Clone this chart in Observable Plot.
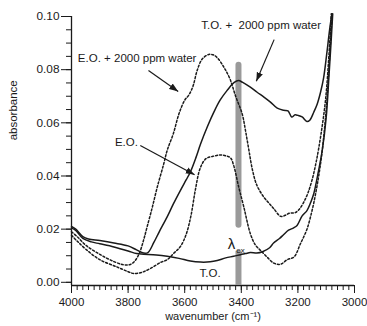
<!DOCTYPE html>
<html>
<head>
<meta charset="utf-8">
<script src="https://cdn.jsdelivr.net/npm/d3@7"></script>
<script src="https://cdn.jsdelivr.net/npm/@observablehq/plot@0.6"></script>
<style>
  html, body { margin: 0; padding: 0; background: #fff; }
  svg { display: block; }
</style>
</head>
<body>
<div id="chart"></div>
<script>
// ---- data: [wavenumber (cm^-1), absorbance] ----
const TO = [[4000,0.0205],[3985,0.0195],[3960,0.0165],[3930,0.0152],[3900,0.0145],[3850,0.0133],[3800,0.0118],[3770,0.0108],[3745,0.0106],[3700,0.0103],[3662,0.0098],[3620,0.0090],[3580,0.0080],[3544,0.0076],[3510,0.0077],[3485,0.0082],[3455,0.0092],[3427,0.0098],[3403,0.0104],[3385,0.0108],[3368,0.0112],[3345,0.0110],[3325,0.0115],[3300,0.0130],[3286,0.0148],[3265,0.0165],[3250,0.0180],[3233,0.0196],[3215,0.0205],[3203,0.0214],[3185,0.0250],[3168,0.0270],[3155,0.0300],[3144,0.0333],[3127,0.0420],[3114,0.0496],[3100,0.0620],[3090,0.0780],[3083,0.0900],[3077,0.1010]];
const TO_WATER = [[4000,0.0210],[3985,0.0200],[3960,0.0172],[3940,0.0163],[3900,0.0157],[3850,0.0148],[3800,0.0137],[3770,0.0122],[3745,0.0110],[3730,0.0112],[3709,0.0150],[3690,0.0190],[3662,0.0246],[3640,0.0295],[3615,0.0346],[3595,0.0385],[3580,0.0415],[3560,0.0470],[3544,0.0520],[3520,0.0585],[3497,0.0640],[3475,0.0685],[3450,0.0722],[3425,0.0752],[3410,0.0759],[3395,0.0752],[3368,0.0734],[3344,0.0715],[3320,0.0697],[3297,0.0678],[3273,0.0655],[3250,0.0647],[3235,0.0645],[3222,0.0622],[3210,0.0630],[3200,0.0628],[3185,0.0622],[3168,0.0605],[3158,0.0610],[3144,0.0640],[3132,0.0670],[3120,0.0715],[3109,0.0770],[3098,0.0860],[3088,0.0950],[3080,0.1010]];
const EO = [[4000,0.0177],[3980,0.0155],[3950,0.0125],[3900,0.0085],[3840,0.0058],[3800,0.0040],[3780,0.0033],[3750,0.0038],[3721,0.0052],[3685,0.0075],[3662,0.0085],[3638,0.0110],[3615,0.0135],[3595,0.0180],[3578,0.0250],[3562,0.0350],[3545,0.0430],[3525,0.0465],[3500,0.0474],[3475,0.0479],[3455,0.0476],[3438,0.0468],[3427,0.0440],[3409,0.0358],[3391,0.0283],[3368,0.0183],[3350,0.0140],[3332,0.0120],[3309,0.0095],[3285,0.0072],[3261,0.0068],[3238,0.0085],[3214,0.0095],[3191,0.0145],[3168,0.0200],[3150,0.0270],[3138,0.0330],[3125,0.0410],[3114,0.0496],[3100,0.0650],[3090,0.0810],[3079,0.1010]];
const EO_WATER = [[4000,0.0190],[3980,0.0172],[3950,0.0140],[3900,0.0105],[3850,0.0078],[3820,0.0067],[3795,0.0066],[3778,0.0078],[3760,0.0110],[3745,0.0160],[3733,0.0208],[3715,0.0280],[3697,0.0358],[3674,0.0446],[3662,0.0496],[3640,0.0560],[3620,0.0635],[3600,0.0685],[3585,0.0705],[3570,0.0740],[3556,0.0797],[3538,0.0840],[3515,0.0857],[3500,0.0856],[3485,0.0845],[3462,0.0810],[3440,0.0765],[3420,0.0700],[3397,0.0634],[3385,0.0570],[3373,0.0496],[3360,0.0420],[3345,0.0365],[3320,0.0320],[3300,0.0295],[3285,0.0277],[3261,0.0248],[3245,0.0252],[3230,0.0260],[3210,0.0262],[3195,0.0275],[3180,0.0300],[3165,0.0335],[3150,0.0385],[3135,0.0455],[3118,0.0560],[3102,0.0690],[3090,0.0860],[3082,0.1010]];

// tick values
const X_MAJOR = [4000, 3800, 3600, 3400, 3200, 3000];
const X_MINOR = d3.range(3000, 4001, 20);
const Y_MAJOR = [0, 0.02, 0.04, 0.06, 0.08, 0.10];
const Y_MINOR = d3.range(0, 0.1001, 0.005);

// annotations
const LABEL_TEXT = ["T.O. +  2000 ppm water", "E.O. + 2000 ppm water", "E.O.", "T.O."];
const LABEL_WN   = [3330, 3768, 3806, 3510];
const LABEL_ABS  = [0.0966, 0.0842, 0.0526, 0.0033];
const ARROW_FROM = [[3284, 0.0913], [3728, 0.0797], [3757, 0.0515]];
const ARROW_TO   = [[3347, 0.0756], [3623, 0.0718], [3565, 0.0405]];
const EX_WN = 3410;                       // excitation wavelength marker
const EX_SEGMENTS = [[-0.0012, 0.0117], [0.0215, 0.0817]];
const Y_LABEL = "absorbance";
const X_LABEL = "wavenumber (cm\u207B\u00B9)";

const toRows = (arr, s) => arr.map(([wn, a]) => ({wn, a, s}));
const labels = LABEL_TEXT.map((t, i) => ({t, wn: LABEL_WN[i], a: LABEL_ABS[i]}));
const arrows = ARROW_FROM.map((f, i) => ({x1: f[0], y1: f[1], x2: ARROW_TO[i][0], y2: ARROW_TO[i][1]}));

const font = "'Liberation Sans', Arial, Helvetica, sans-serif";
const ink = "#1a1a1a";

// filled triangular arrowhead marker
function filledArrow(color) {
  const m = d3.create("svg:marker")
    .attr("viewBox", "-10 -5 10 10")
    .attr("markerWidth", 9)
    .attr("markerHeight", 9)
    .attr("markerUnits", "userSpaceOnUse")
    .attr("orient", "auto")
    .attr("fill", color)
    .attr("stroke", "none");
  m.append("path").attr("d", "M-10,-3.6L0,0L-10,3.6Z");
  return m.node();
}

const chart = Plot.plot({
  width: 367,
  height: 326,
  marginLeft: 71,
  marginRight: 13,
  marginTop: 16,
  marginBottom: 41,
  x: {domain: [4000, 3000]},
  y: {domain: [-0.0012, 0.1]},
  style: {fontFamily: font, fontSize: "11.5px", color: ink, background: "#fff"},
  marks: [
    // axes
    Plot.axisY({ticks: Y_MINOR, tickSize: 5, tickFormat: () => "", label: null}),
    Plot.axisY({ticks: Y_MAJOR, tickSize: 10, tickPadding: 2, tickFormat: d3.format(".2f"), label: null, fontSize: 11.8}),
    Plot.axisX({ticks: X_MINOR, tickSize: 5, tickFormat: () => "", label: null}),
    Plot.axisX({ticks: X_MAJOR, tickSize: 8, tickPadding: 4, tickFormat: d3.format("d"), label: null, fontSize: 11.5}),
    Plot.ruleX([4000], {y1: -0.0012, y2: 0.1, stroke: ink, strokeWidth: 1.3}),
    Plot.ruleY([-0.0012], {x1: 4000, x2: 3000, stroke: ink, strokeWidth: 1.3}),
    Plot.text([Y_LABEL], {frameAnchor: "left", y: 0.0534, dx: -58, rotate: -90, text: d => d, fontSize: 11.5, fill: ink}),
    Plot.text([X_LABEL], {frameAnchor: "bottom", x: 3500, dy: 34, text: d => d, fontSize: 11, fill: ink}),
    // excitation bar
    Plot.ruleX([EX_SEGMENTS[0]], {x: () => EX_WN, y1: d => d[0], y2: d => d[1], stroke: "#9a9a9a", strokeWidth: 6}),
    Plot.ruleX([EX_SEGMENTS[1]], {x: () => EX_WN, y1: d => d[0], y2: d => d[1], stroke: "#9a9a9a", strokeWidth: 6, strokeLinecap: "round"}),
    // spectra
    Plot.line(toRows(TO, "TO"), {x: "wn", y: "a", stroke: ink, strokeWidth: 1.5, curve: "catmull-rom"}),
    Plot.line(toRows(TO_WATER, "TOW"), {x: "wn", y: "a", stroke: ink, strokeWidth: 1.5, curve: "catmull-rom"}),
    Plot.line(toRows(EO, "EO"), {x: "wn", y: "a", stroke: ink, strokeWidth: 1.5, strokeDasharray: "2,2", curve: "catmull-rom"}),
    Plot.line(toRows(EO_WATER, "EOW"), {x: "wn", y: "a", stroke: ink, strokeWidth: 1.5, strokeDasharray: "2,2", curve: "catmull-rom"}),
    // annotations
    Plot.link(arrows, {x1: "x1", y1: "y1", x2: "x2", y2: "y2", stroke: ink, strokeWidth: 1.2, markerEnd: filledArrow}),
    Plot.text(labels, {x: "wn", y: "a", text: "t", fontSize: 11.5, fill: ink}),
    Plot.text(["\u03BB"], {x: () => EX_WN, y: () => 0.0145, dx: -7, text: d => d, fontSize: 15, fill: ink}),
    Plot.text(["ex"], {x: () => EX_WN, y: () => 0.0120, dx: 2, text: d => d, fontSize: 8, fill: ink})
  ]
});
document.getElementById("chart").append(chart);
</script>
</body>
</html>
